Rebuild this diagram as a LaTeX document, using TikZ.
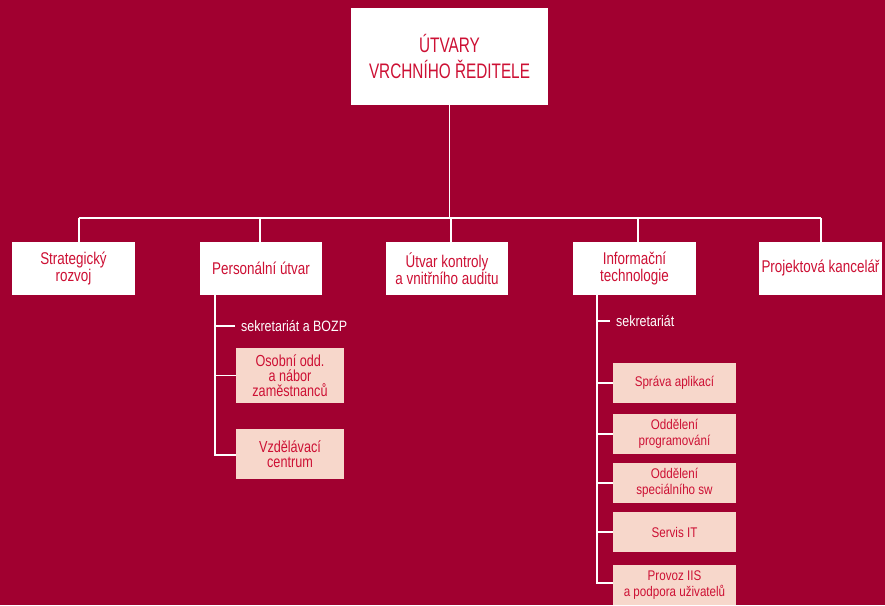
\documentclass[tikz,border=0pt]{standalone}
\usepackage{fontspec}
\setmainfont[FakeStretch=0.83]{Liberation Sans}
\newfontfamily\titlefont[FakeStretch=0.73]{Liberation Sans}
\newfontfamily\unitfont[FakeStretch=0.79]{Liberation Sans}
\definecolor{bgred}{RGB}{161,0,48}
\definecolor{txtred}{RGB}{205,16,52}
\definecolor{lightbox}{RGB}{247,215,203}
\begin{document}
\begin{tikzpicture}[x=1pt,y=-1pt,
  conn/.style={draw=white,line width=1.4pt},
  topbox/.style={fill=white,minimum width=197pt,minimum height=97pt,inner sep=0pt,
    align=center,text=txtred,font=\titlefont\fontsize{21}{26}\selectfont},
  unitbox/.style={fill=white,minimum width=123pt,minimum height=53pt,inner sep=0pt,
    align=center,text=txtred,font=\unitfont\fontsize{17}{17.3}\selectfont},
  subbox/.style={fill=lightbox,minimum width=108pt,inner sep=0pt,
    align=center,text=txtred,font=\unitfont\fontsize{16}{15}\selectfont},
  itbox/.style={fill=lightbox,minimum width=123pt,minimum height=40pt,inner sep=0pt,
    align=center,text=txtred,font=\fontsize{14}{15.5}\selectfont},
  plain/.style={anchor=west,inner sep=0pt,text=white,font=\fontsize{15}{15}\selectfont}]
\useasboundingbox (0,0) rectangle (885,605);
\fill[bgred] (0,0) rectangle (885,605);

% top
\node[topbox] (top) at (449.5,56.5) {ÚTVARY\\VRCHNÍHO ŘEDITELE};

% row of units
\node[unitbox] (s1) at (73.5,268.5) {Strategický\\rozvoj};
\node[unitbox,minimum width=122pt] (s2) at (261,268.5) {Personální útvar};
\node[unitbox,minimum width=122pt] (s3) at (447,268.5) {Útvar kontroly\\a vnitřního auditu};
\node[unitbox] (s4) at (634.5,268.5) {Informační\\technologie};
\node[unitbox] (s5) at (820.5,268.5) {Projektová kancelář};

% bus
\coordinate (b1) at (79,218);
\coordinate (b2) at (260,218);
\coordinate (b3) at (451,218);
\coordinate (b4) at (638,218);
\coordinate (b5) at (821,218);
\draw[conn] (top.south) -- (top.south |- b1);
\draw[conn] (b1) -- (b5);
\draw[conn] (b1) -- (b1 |- s1.north);
\draw[conn] (b2) -- (b2 |- s2.north);
\draw[conn] (b3) -- (b3 |- s3.north);
\draw[conn] (b4) -- (b4 |- s4.north);
\draw[conn] (b5) -- (b5 |- s5.north);

% personal subtree
\node[plain] (ps) at (241,326) {sekretariát a BOZP};
\node[subbox,minimum height=55pt] (p1) at (290,375.5) {Osobní odd.\\a nábor\\zaměstnanců};
\node[subbox,minimum height=50pt] (p2) at (290,454) {Vzdělávací\\centrum};
\coordinate (pt) at (215,295);
\coordinate (pb) at (215,455);
\draw[conn] (pt) -- (pb) -- (p2.west |- pb);
\draw[conn] (pt |- ps) -- ([xshift=-6pt]ps.west);
\draw[conn] (pt |- p1) -- (p1.west);

% IT subtree
\node[plain] (is) at (616,321) {sekretariát};
\node[itbox] (r1) at (674.5,383) {Správa aplikací};
\node[itbox] (r2) at (674.5,434) {Oddělení\\programování};
\node[itbox] (r3) at (674.5,483) {Oddělení\\speciálního sw};
\node[itbox] (r4) at (674.5,532) {Servis IT};
\node[itbox] (r5) at (674.5,585) {Provoz IIS\\a podpora uživatelů};
\coordinate (it) at (597,295);
\coordinate (ib) at (597,583);
\draw[conn] (it) -- (ib) -- (r5.west |- ib);
\draw[conn] (it |- is) -- ([xshift=-6pt]is.west);
\draw[conn] (it |- r1) -- (r1.west);
\draw[conn] (it |- r2) -- (r2.west);
\draw[conn] (it |- r3) -- (r3.west);
\draw[conn] (it |- r4) -- (r4.west);
\end{tikzpicture}
\end{document}
